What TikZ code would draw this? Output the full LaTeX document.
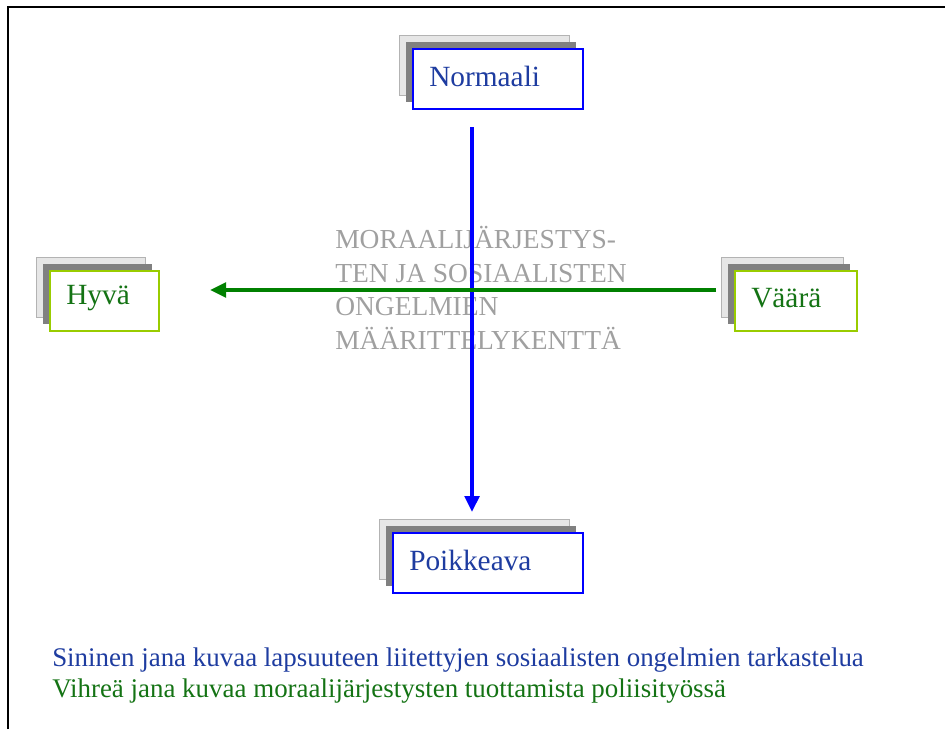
\documentclass[tikz,border=0pt]{standalone}
\usepackage{fontspec}
\setmainfont{Liberation Serif}
\usepackage{tikz}
\usetikzlibrary{arrows.meta}
\definecolor{txtblue}{RGB}{30,60,160}
\definecolor{txtgreen}{RGB}{20,115,20}
\definecolor{lnblue}{RGB}{0,0,255}
\definecolor{lngreen}{RGB}{0,128,0}
\definecolor{limeedge}{RGB}{153,204,0}
\definecolor{shdark}{RGB}{128,128,128}
\definecolor{shlight}{RGB}{230,230,230}
\definecolor{fieldgray}{RGB}{160,160,160}
\tikzstyle{frontbox}=[draw, fill=white, line width=1.5pt, inner sep=0pt, anchor=north west]
\tikzstyle{boxlbl}=[inner sep=0pt, anchor=west, font=\fontsize{22}{26}\selectfont]
\tikzstyle{axis>}=[line width=2.6pt, -{Triangle[length=12pt,width=11pt]}]
\tikzstyle{note}=[inner sep=0pt, anchor=base west, font=\fontsize{20.2}{24}\selectfont]

\begin{document}
\begin{tikzpicture}[x=0.75pt,y=-0.75pt]
\useasboundingbox (0,0) rectangle (945,729);
\draw[line width=1.6pt] (8,729) -- (8,7) -- (945,7);
\foreach \nm/\xa/\ya/\xb/\yb/\bc/\tc/\txt in {norm/412/48/582/108/lnblue/txtblue/Normaali,
	hyva/49/270/158/330/limeedge/txtgreen/Hyvä,
	vaara/734/270/856/330/limeedge/txtgreen/Väärä,
	poik/392/532/582/592/lnblue/txtblue/Poikkeava} {
	\fill[shlight, draw=shdark!60, line width=0.4pt] (\xa-13,\ya-13) rectangle (\xb-13,\yb-13);
	\fill[shdark] (\xa-6.5,\ya-6.5) rectangle (\xb-6.5,\yb-6.5);
	\node[frontbox, draw=\bc, minimum width={(\xb-\xa)*0.75pt}, minimum height={(\yb-\ya)*0.75pt}] (\nm) at (\xa,\ya) {};
	\node[boxlbl, text=\tc] (\nm-t) at ([xshift=12.75pt,yshift=2pt]\nm.west) {\txt};
}
\node[font=\fontsize{20.6}{25.3}\selectfont, text=fieldgray, align=left, anchor=north west, inner sep=0pt] (field) at (335,226) {MORAALIJÄRJESTYS-\\TEN JA SOSIAALISTEN\\ONGELMIEN\\MÄÄRITTELYKENTTÄ};
\coordinate (btop) at (472,127);
\coordinate (bend) at (472,512);
\coordinate (gstart) at (716,290);
\coordinate (gend) at (210,290);
\draw[axis>, lnblue] (btop) -- (bend);
\draw[axis>, lngreen] (gstart) -- (gend);
\node[note, text=txtblue] (note1) at (52,666) {Sininen jana kuvaa lapsuuteen liitettyjen sosiaalisten ongelmien tarkastelua};
\node[note, text=txtgreen] (note2) at (52,697) {Vihreä jana kuvaa moraalijärjestysten tuottamista poliisityössä};
\end{tikzpicture}
\end{document}
